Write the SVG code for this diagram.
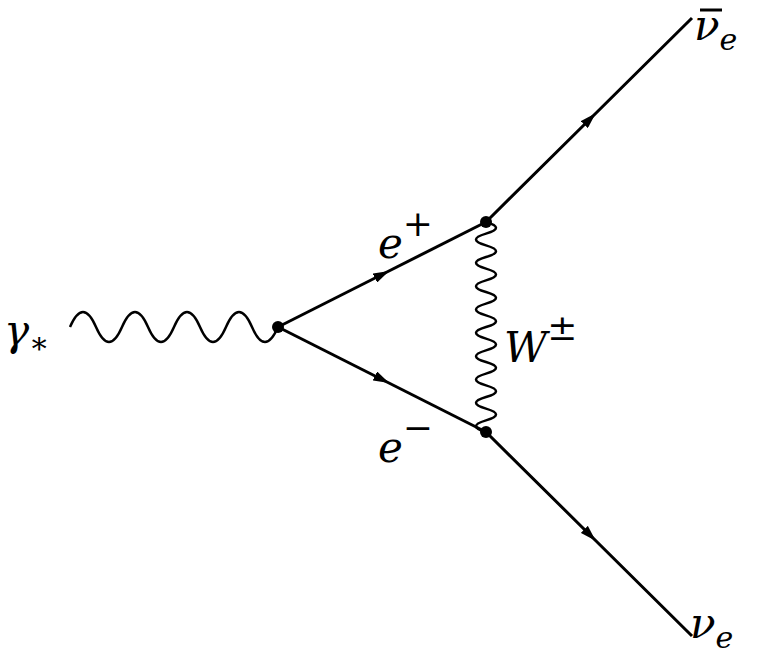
<svg xmlns="http://www.w3.org/2000/svg" width="765" height="662" viewBox="0 0 765 662">
<style>
.l{stroke:#000;stroke-width:3;fill:none}
.w{stroke:#000;stroke-width:2.5;fill:none}
text{font-family:"DejaVu Serif","Liberation Serif",serif;font-style:italic;font-size:42px;fill:#000}
.s{font-size:30px}
.u{font-size:36px;font-style:normal}
</style>
<defs>
<marker id="ah" viewBox="0 0 16 10" refX="8" refY="5" markerWidth="16" markerHeight="10" orient="auto" markerUnits="userSpaceOnUse"><path d="M0,0 L16,5 L0,10 z" fill="#000"/></marker></defs>
<g id="connectors">
<path class="w" d="M70 327 q13 -30 26 0 t26 0 t26 0 t26 0 t26 0 t26 0 t26 0 t26 0"/>
<path class="w" d="M486 222 q20 5.833 0 11.667 t0 11.667 t0 11.667 t0 11.667 t0 11.667 t0 11.667 t0 11.667 t0 11.667 t0 11.667 t0 11.667 t0 11.667 t0 11.667 t0 11.667 t0 11.667 t0 11.667 t0 11.667 t0 11.667 t0 11.667"/>
<path class="l" d="M278 327 L382 274.5 L486 222" marker-mid="url(#ah)"/>
<path class="l" d="M278 327 L382 379.5 L486 432" marker-mid="url(#ah)"/>
<path class="l" d="M486 222 L590 119 L692 18" marker-mid="url(#ah)"/>
<path class="l" d="M486 432 L590 535 L692 636" marker-mid="url(#ah)"/>
</g>
<g id="v1"><circle cx="278" cy="327" r="6"/></g>
<g id="v2"><circle cx="486" cy="222" r="6"/></g>
<g id="v3"><circle cx="486" cy="432" r="6"/></g>
<g id="labels">
<text x="4" y="345">γ<tspan class="s" dy="8">∗</tspan></text>
<text x="378" y="258">e<tspan class="u" dy="-22">+</tspan></text>
<text x="378" y="462">e<tspan class="u" dy="-22">−</tspan></text>
<text x="504" y="362">W<tspan class="u" dy="-22">±</tspan></text>
<text x="694" y="40">ν<tspan class="s" dy="10">e</tspan></text>
<line x1="700" y1="10" x2="722" y2="10" stroke="#000" stroke-width="3"/>
<text x="690" y="638">ν<tspan class="s" dy="10">e</tspan></text>
</g>
</svg>
